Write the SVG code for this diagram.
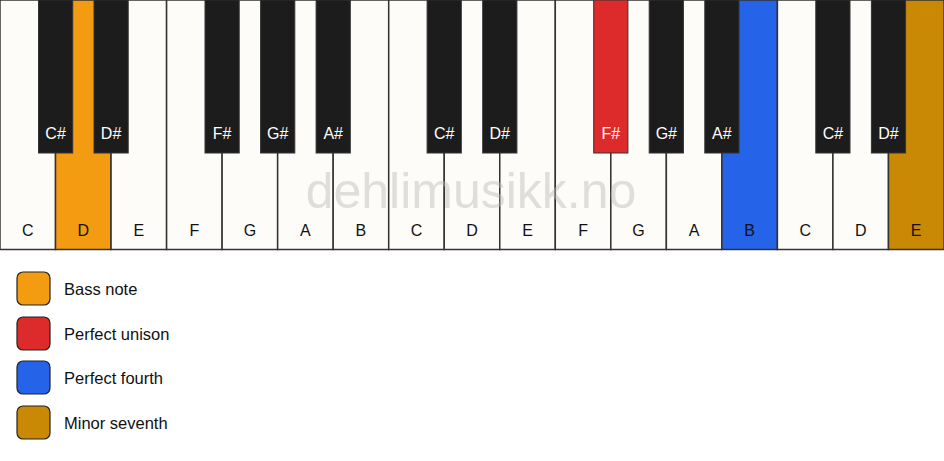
<svg xmlns="http://www.w3.org/2000/svg" width="944" height="461" viewBox="0 0 944 461">
<style>
.w{fill:#fdfcf8;stroke:#333;stroke-width:1.5}
.b{fill:#1c1c1c;stroke:#333;stroke-width:1}
.wl{font-family:"Liberation Sans",Arial,sans-serif;font-size:16px;fill:#111;text-anchor:middle}
.bl{font-family:"Liberation Sans",Arial,sans-serif;font-size:16px;fill:#fff;text-anchor:middle}
.lg{stroke:#222;stroke-width:1.2}
.lt{font-family:"Liberation Sans",Arial,sans-serif;font-size:16.5px;fill:#111}
.wm{font-family:"Liberation Sans",Arial,sans-serif;font-size:50px;fill:#bbb;fill-opacity:0.45;text-anchor:middle}
</style>
<rect width="944" height="461" fill="#fff"/>
<g id="white-keys">
<g id="w0"><rect class="w" x="0" y="0" width="55.53" height="249.5"/><text class="wl" x="27.8" y="236">C</text></g>
<g id="w1"><rect class="w" x="55.53" y="0" width="55.53" height="249.5" style="fill:#f39c12"/><text class="wl" x="83.3" y="236">D</text></g>
<g id="w2"><rect class="w" x="111.06" y="0" width="55.53" height="249.5"/><text class="wl" x="138.8" y="236">E</text></g>
<g id="w3"><rect class="w" x="166.59" y="0" width="55.53" height="249.5"/><text class="wl" x="194.4" y="236">F</text></g>
<g id="w4"><rect class="w" x="222.12" y="0" width="55.53" height="249.5"/><text class="wl" x="249.9" y="236">G</text></g>
<g id="w5"><rect class="w" x="277.65" y="0" width="55.53" height="249.5"/><text class="wl" x="305.4" y="236">A</text></g>
<g id="w6"><rect class="w" x="333.18" y="0" width="55.53" height="249.5"/><text class="wl" x="360.9" y="236">B</text></g>
<g id="w7"><rect class="w" x="388.71" y="0" width="55.53" height="249.5"/><text class="wl" x="416.5" y="236">C</text></g>
<g id="w8"><rect class="w" x="444.24" y="0" width="55.53" height="249.5"/><text class="wl" x="472" y="236">D</text></g>
<g id="w9"><rect class="w" x="499.76" y="0" width="55.53" height="249.5"/><text class="wl" x="527.5" y="236">E</text></g>
<g id="w10"><rect class="w" x="555.29" y="0" width="55.53" height="249.5"/><text class="wl" x="583.1" y="236">F</text></g>
<g id="w11"><rect class="w" x="610.82" y="0" width="55.53" height="249.5"/><text class="wl" x="638.6" y="236">G</text></g>
<g id="w12"><rect class="w" x="666.35" y="0" width="55.53" height="249.5"/><text class="wl" x="694.1" y="236">A</text></g>
<g id="w13"><rect class="w" x="721.88" y="0" width="55.53" height="249.5" style="fill:#2563e8"/><text class="wl" x="749.6" y="236">B</text></g>
<g id="w14"><rect class="w" x="777.41" y="0" width="55.53" height="249.5"/><text class="wl" x="805.2" y="236">C</text></g>
<g id="w15"><rect class="w" x="832.94" y="0" width="55.53" height="249.5"/><text class="wl" x="860.7" y="236">D</text></g>
<g id="w16"><rect class="w" x="888.47" y="0" width="55.53" height="249.5" style="fill:#c98905"/><text class="wl" x="916.2" y="236">E</text></g>
</g>
<text class="wm" x="471" y="208">dehlimusikk.no</text>
<g id="black-keys">
<g id="b0"><rect class="b" x="38.5" y="0" width="34.2" height="153"/><text class="bl" x="55.6" y="139">C#</text></g>
<g id="b1"><rect class="b" x="94" y="0" width="34.2" height="153"/><text class="bl" x="111.1" y="139">D#</text></g>
<g id="b3"><rect class="b" x="205" y="0" width="34.2" height="153"/><text class="bl" x="222.1" y="139">F#</text></g>
<g id="b4"><rect class="b" x="260.6" y="0" width="34.2" height="153"/><text class="bl" x="277.7" y="139">G#</text></g>
<g id="b5"><rect class="b" x="316.1" y="0" width="34.2" height="153"/><text class="bl" x="333.2" y="139">A#</text></g>
<g id="b7"><rect class="b" x="427.1" y="0" width="34.2" height="153"/><text class="bl" x="444.2" y="139">C#</text></g>
<g id="b8"><rect class="b" x="482.7" y="0" width="34.2" height="153"/><text class="bl" x="499.8" y="139">D#</text></g>
<g id="b10"><rect class="b" x="593.7" y="0" width="34.2" height="153" style="fill:#dd2a2a"/><text class="bl" x="610.8" y="139">F#</text></g>
<g id="b11"><rect class="b" x="649.2" y="0" width="34.2" height="153"/><text class="bl" x="666.3" y="139">G#</text></g>
<g id="b12"><rect class="b" x="704.8" y="0" width="34.2" height="153"/><text class="bl" x="721.9" y="139">A#</text></g>
<g id="b14"><rect class="b" x="815.8" y="0" width="34.2" height="153"/><text class="bl" x="832.9" y="139">C#</text></g>
<g id="b15"><rect class="b" x="871.4" y="0" width="34.2" height="153"/><text class="bl" x="888.5" y="139">D#</text></g>
</g>
<g id="legend">
<g id="lg-bass"><rect class="lg" x="17" y="272" width="33" height="33" rx="6" fill="#f39c12"/><text class="lt" x="64" y="295">Bass note</text></g>
<g id="lg-unison"><rect class="lg" x="17" y="317" width="33" height="33" rx="6" fill="#dd2a2a"/><text class="lt" x="64" y="340">Perfect unison</text></g>
<g id="lg-fourth"><rect class="lg" x="17" y="361" width="33" height="33" rx="6" fill="#2563e8"/><text class="lt" x="64" y="384">Perfect fourth</text></g>
<g id="lg-seventh"><rect class="lg" x="17" y="406" width="33" height="33" rx="6" fill="#c98905"/><text class="lt" x="64" y="429">Minor seventh</text></g>
</g>
</svg>
